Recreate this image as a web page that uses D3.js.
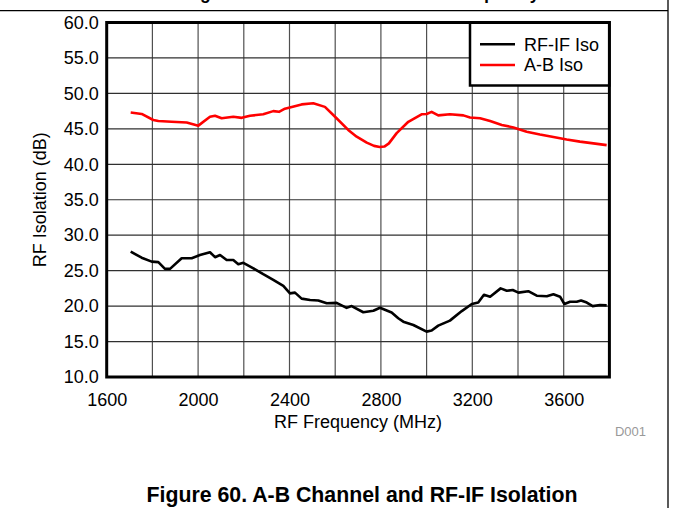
<!DOCTYPE html>
<html><head><meta charset="utf-8">
<script src="https://cdn.jsdelivr.net/npm/d3@7"></script>
<style>html,body{margin:0;padding:0;background:#fff;}svg{display:block;font-family:"Liberation Sans",Arial,sans-serif;}</style>
</head><body>
<svg id="c" width="673" height="508"></svg>
<script>
// ---- data ----
const xTicks = [1600, 2000, 2400, 2800, 3200, 3600];
const xGrid = [1800, 2000, 2200, 2400, 2600, 2800, 3000, 3200, 3400, 3600];
const yTicks = [10, 15, 20, 25, 30, 35, 40, 45, 50, 55, 60];
const seriesNames = ["RF-IF Iso", "A-B Iso"];
const seriesColors = ["#000000", "#ff0000"];

const rfIfFreq = [1705,1753,1797,1826,1855,1877,1928,1972,2008,2052,2074,2096,2125,2154,2176,2198,2242,2285,2329,2373,2402,2424,2453,2490,2526,2563,2606,2650,2672,2723,2767,2796,2847,2876,2898,2942,3000,3022,3051,3102,3154,3198,3226,3251,3278,3324,3351,3377,3402,3445,3482,3526,3555,3584,3603,3628,3657,3676,3701,3727,3759,3788];
const rfIfIso = [27.67,26.83,26.27,26.2,25.25,25.25,26.75,26.75,27.2,27.6,26.9,27.2,26.5,26.5,25.9,26.1,25.33,24.5,23.7,22.85,21.8,21.9,21.05,20.85,20.8,20.4,20.45,19.75,20.0,19.13,19.35,19.77,19.1,18.28,17.8,17.33,16.4,16.55,17.25,17.95,19.3,20.3,20.5,21.6,21.33,22.5,22.17,22.27,21.9,22.1,21.47,21.38,21.67,21.33,20.3,20.62,20.62,20.8,20.5,20.0,20.15,20.1];

const abFreq = [1705,1753,1804,1826,1884,1950,2001,2052,2074,2103,2154,2191,2227,2285,2329,2354,2380,2453,2504,2555,2606,2657,2694,2738,2770,2795,2815,2835,2869,2920,2978,3000,3022,3051,3102,3161,3190,3234,3278,3329,3380,3438,3496,3555,3613,3671,3730,3788];
const abIso = [47.3,47.1,46.25,46.1,46.0,45.9,45.45,46.7,46.85,46.5,46.7,46.55,46.85,47.05,47.5,47.4,47.85,48.45,48.6,48.1,46.5,44.85,43.9,43.05,42.6,42.45,42.5,42.95,44.4,46.0,47.05,47.1,47.4,46.9,47.05,46.9,46.6,46.5,46.1,45.55,45.2,44.6,44.2,43.85,43.5,43.2,42.95,42.7];

const svg = d3.select("#c");
const FONT = "Liberation Sans, Arial, sans-serif";
const L = 106.7, R = 609.4, T = 22.5, B = 377;
const x = d3.scaleLinear().domain([1600, 3800]).range([L, R]);
const y = d3.scaleLinear().domain([10, 60]).range([B, T]);

// page frame
svg.append("line").attr("x1",0).attr("x2",668).attr("y1",10.7).attr("y2",10.7).attr("stroke","#000").attr("stroke-width",1.3);
svg.append("line").attr("x1",668).attr("x2",668).attr("y1",0).attr("y2",508).attr("stroke","#000").attr("stroke-width",1.3);
// cut-off title of previous figure (only descenders visible, as in the reference)
svg.append("text").attr("x",362).attr("y",-1.5).attr("text-anchor","middle")
  .attr("font-weight","bold").attr("font-size",17.5).text("Figure 59. RF-IF Isolation vs RF Frequency");

// grid
const g = svg.append("g");
g.selectAll(".vg").data(xGrid).join("line")
  .attr("x1",d=>x(d)).attr("x2",d=>x(d)).attr("y1",T).attr("y2",B)
  .attr("stroke","#505050").attr("stroke-width",1.2);
g.selectAll(".hg").data(yTicks.slice(1,-1)).join("line")
  .attr("x1",L).attr("x2",R).attr("y1",d=>y(d)).attr("y2",d=>y(d))
  .attr("stroke","#303030").attr("stroke-width",1.2);

// axes labels via d3 axes
const xAxis = svg.append("g").attr("transform",`translate(0,${B})`)
  .call(d3.axisBottom(x).tickValues(xTicks).tickSize(0).tickPadding(16).tickFormat(d3.format("d")));
xAxis.select(".domain").remove();
xAxis.selectAll("text").attr("font-size",18).attr("font-family",FONT).attr("fill","#000");

const yAxis = svg.append("g").attr("transform",`translate(${L},0)`)
  .call(d3.axisLeft(y).tickValues(yTicks).tickSize(0).tickPadding(8).tickFormat(d3.format(".1f")));
yAxis.select(".domain").remove();
yAxis.selectAll("text").attr("font-size",18).attr("font-family",FONT).attr("fill","#000");

// series
const line = d3.line().x(d=>x(d[0])).y(d=>y(d[1]));
const series = [
  d3.zip(rfIfFreq, rfIfIso),
  d3.zip(abFreq, abIso)
];
series.forEach((s,i)=>{
  svg.append("path").datum(s).attr("d",line).attr("fill","none")
    .attr("stroke",seriesColors[i]).attr("stroke-width",2.6).attr("stroke-linejoin","round");
});

// legend
const lg = svg.append("g");
lg.append("rect").attr("x",470).attr("y",T).attr("width",R-470).attr("height",63)
  .attr("fill","#fff").attr("stroke","#000").attr("stroke-width",2.5);
seriesNames.forEach((n,i)=>{
  const yy = 44.3 + i*20.7;
  lg.append("line").attr("x1",480).attr("x2",515).attr("y1",yy).attr("y2",yy)
    .attr("stroke",seriesColors[i]).attr("stroke-width",2.6);
  lg.append("text").attr("x",524).attr("y",yy+6.3).attr("font-size",18).text(n);
});
// plot border
svg.append("rect").attr("x",L).attr("y",T).attr("width",R-L).attr("height",B-T)
  .attr("fill","none").attr("stroke","#000").attr("stroke-width",3);

// axis titles
svg.append("text").attr("x",(L+R)/2).attr("y",428).attr("text-anchor","middle")
  .attr("font-size",18).text("RF Frequency (MHz)");
svg.append("text").attr("transform",`translate(46,${(T+B)/2}) rotate(-90)`).attr("text-anchor","middle")
  .attr("font-size",18).text("RF Isolation (dB)");
svg.append("text").attr("x",646).attr("y",436).attr("text-anchor","end")
  .attr("font-size",13).attr("fill","#999").text("D001");

// caption
svg.append("text").attr("x",362).attr("y",502).attr("text-anchor","middle")
  .attr("font-weight","bold").attr("font-size",21.3).text("Figure 60. A-B Channel and RF-IF Isolation");
</script>
</body></html>
